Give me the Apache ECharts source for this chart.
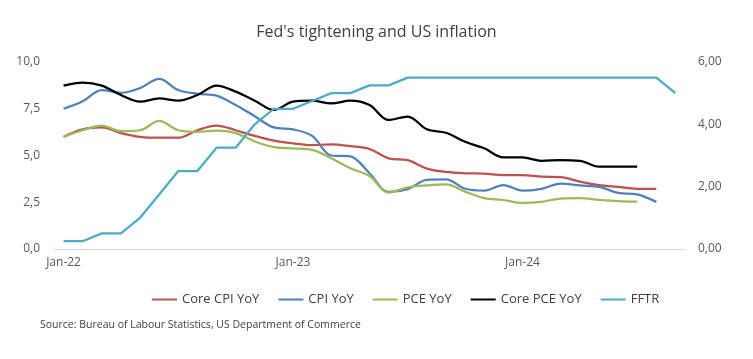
<!DOCTYPE html>
<html>
<head>
<meta charset="utf-8">
<script src="https://cdn.jsdelivr.net/npm/echarts@6/dist/echarts.min.js"></script>
<style>html,body{margin:0;padding:0;background:#fff}#c{width:753px;height:359px}</style>
</head>
<body>
<div id="c"></div>
<script>
const months = ['Jan-22','Feb-22','Mar-22','Apr-22','May-22','Jun-22','Jul-22','Aug-22','Sep-22','Oct-22','Nov-22','Dec-22',
  'Jan-23','Feb-23','Mar-23','Apr-23','May-23','Jun-23','Jul-23','Aug-23','Sep-23','Oct-23','Nov-23','Dec-23',
  'Jan-24','Feb-24','Mar-24','Apr-24','May-24','Jun-24','Jul-24','Aug-24','Sep-24'];
const coreCpi = [6.0,6.4,6.5,6.2,6.0,5.95,5.95,6.35,6.6,6.35,6.05,5.8,5.65,5.55,5.6,5.5,5.35,4.85,4.75,4.3,4.12,4.05,4.03,3.95,3.95,3.87,3.85,3.6,3.42,3.32,3.22,3.22];
const cpi = [7.5,7.9,8.5,8.35,8.6,9.1,8.5,8.3,8.2,7.7,7.1,6.5,6.4,6.05,5.0,4.95,4.05,3.05,3.2,3.7,3.72,3.22,3.12,3.42,3.12,3.22,3.5,3.4,3.32,3.0,2.92,2.52];
const pce = [6.0,6.35,6.6,6.3,6.35,6.85,6.35,6.27,6.33,6.2,5.75,5.45,5.38,5.3,4.85,4.32,3.9,3.02,3.3,3.4,3.45,3.07,2.72,2.62,2.46,2.52,2.7,2.72,2.63,2.56,2.53];
const corePce = [5.24,5.34,5.24,4.94,4.73,4.83,4.76,4.94,5.24,5.05,4.76,4.46,4.73,4.76,4.67,4.76,4.62,4.14,4.25,3.84,3.73,3.44,3.23,2.94,2.94,2.83,2.85,2.83,2.64,2.64,2.64];
const fftr = [0.25,0.25,0.5,0.5,1.0,1.75,2.5,2.5,3.25,3.25,4.0,4.5,4.5,4.75,5.0,5.0,5.25,5.25,5.5,5.5,5.5,5.5,5.5,5.5,5.5,5.5,5.5,5.5,5.5,5.5,5.5,5.5,5.0];
const leftTicks = [0, 10, 2.5];
const rightTicks = [0, 6, 2];

const font = '"Open Sans", "Noto Sans", sans-serif';
const chart = echarts.init(document.getElementById('c'), null, {renderer: 'canvas'});
function mk(name, data, color, axis, smooth) {
  return {name, type: 'line', data, yAxisIndex: axis, smooth: smooth ? 0.35 : false,
    showSymbol: false, symbol: 'none', lineStyle: {color, width: 2.25}, itemStyle: {color}, z: 2};
}
chart.setOption({
  animation: false,
  title: {text: "Fed's tightening and US inflation", left: 'center', top: 19,
    textStyle: {fontFamily: font, fontSize: 16, fontWeight: 'normal', color: '#404040'}},
  grid: {left: 54, right: 68, top: 62, bottom: 110},
  legend: {top: 288, left: 147, itemWidth: 25, itemHeight: 2, itemGap: 19, icon: 'rect',
    textStyle: {fontFamily: font, fontSize: 13, color: '#404040'},
    data: ['Core CPI YoY','CPI YoY','PCE YoY','Core PCE YoY','FFTR']},
  graphic: [{type: 'text', left: 40, top: 320,
    style: {text: 'Source: Bureau of Labour Statistics, US Department of Commerce', fontFamily: font, fontSize: 10.5, fill: '#404040'}}],
  xAxis: {type: 'category', data: months, boundaryGap: true,
    axisLine: {lineStyle: {color: '#d9d9d9', width: 1}},
    axisTick: {interval: 11, length: 5, lineStyle: {color: '#d9d9d9'}},
    axisLabel: {interval: 11, color: '#595959', fontFamily: font, fontSize: 12, margin: 8}},
  yAxis: [
    {type: 'value', min: leftTicks[0], max: leftTicks[1], interval: leftTicks[2], splitLine: {show: false},
      axisLine: {show: false}, axisTick: {show: false},
      axisLabel: {color: '#595959', fontFamily: font, fontSize: 12, margin: 14,
        formatter: v => v.toFixed(1).replace('.', ',')}},
    {type: 'value', min: rightTicks[0], max: rightTicks[1], interval: rightTicks[2], splitLine: {show: false},
      axisLine: {show: false}, axisTick: {show: false},
      axisLabel: {color: '#595959', fontFamily: font, fontSize: 12, margin: 13,
        formatter: v => v.toFixed(2).replace('.', ',')}}
  ],
  series: [
    mk('Core CPI YoY', coreCpi, '#C0504D', 0, true),
    mk('CPI YoY', cpi, '#4F81BD', 0, true),
    mk('PCE YoY', pce, '#9BBB59', 0, true),
    mk('Core PCE YoY', corePce, '#000000', 1, true),
    mk('FFTR', fftr, '#4BACC6', 1, false)
  ]
});
</script>
</body>
</html>
